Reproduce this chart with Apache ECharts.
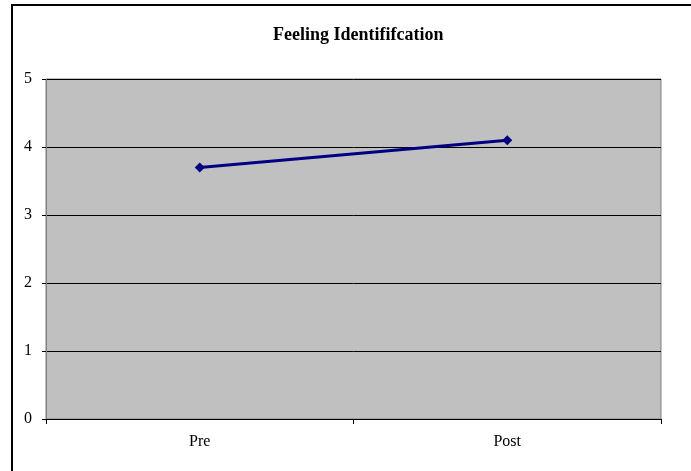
<!DOCTYPE html>
<html>
<head>
<meta charset="utf-8">
<script src="https://cdn.jsdelivr.net/npm/echarts@6/dist/echarts.min.js"></script>
<style>
  html, body { margin: 0; padding: 0; background: #ffffff; }
  #chart { width: 691px; height: 471px; }
</style>
</head>
<body>
<div id="chart"></div>
<script>
const titleText = 'Feeling Identififcation';
const categories = ['Pre', 'Post'];
const scores = [3.7, 4.1];
const yTicks = { min: 0, max: 5, interval: 1 };

const chart = echarts.init(document.getElementById('chart'), null, { renderer: 'canvas' });
const serif = '"Liberation Serif", "Times New Roman", serif';

chart.setOption({
  animation: false,
  backgroundColor: '#ffffff',
  title: {
    text: titleText,
    left: 268,
    top: 21,
    textStyle: { fontFamily: serif, fontWeight: 'bold', fontSize: 18, color: '#000' }
  },
  graphic: [{
    type: 'rect',
    shape: { x: 12, y: 5, width: 700, height: 500 },
    style: { fill: 'none', stroke: '#000', lineWidth: 2 },
    silent: true
  }],
  grid: {
    left: 46, right: 30, top: 79, bottom: 52,
    show: true,
    backgroundColor: '#c0c0c0',
    borderColor: '#808080',
    borderWidth: 1
  },
  xAxis: {
    type: 'category',
    data: categories,
    boundaryGap: true,
    axisLine: { show: true, lineStyle: { color: '#000', width: 1 } },
    axisTick: { show: true, alignWithLabel: false, length: 5, lineStyle: { color: '#000' } },
    axisLabel: { fontFamily: serif, fontSize: 16, color: '#000', margin: 15 },
    splitLine: { show: false }
  },
  yAxis: {
    type: 'value',
    min: yTicks.min, max: yTicks.max, interval: yTicks.interval,
    axisLine: { show: true, lineStyle: { color: '#808080', width: 1 } },
    axisTick: { show: true, length: 4, lineStyle: { color: '#000' } },
    axisLabel: { fontFamily: serif, fontSize: 16, color: '#000', margin: 14 },
    splitLine: { show: true, lineStyle: { color: '#000', width: 1 } }
  },
  series: [{
    type: 'line',
    data: scores,
    symbol: 'diamond',
    symbolSize: 10,
    itemStyle: { color: '#000080' },
    lineStyle: { color: '#000080', width: 3 }
  }]
});
</script>
</body>
</html>
